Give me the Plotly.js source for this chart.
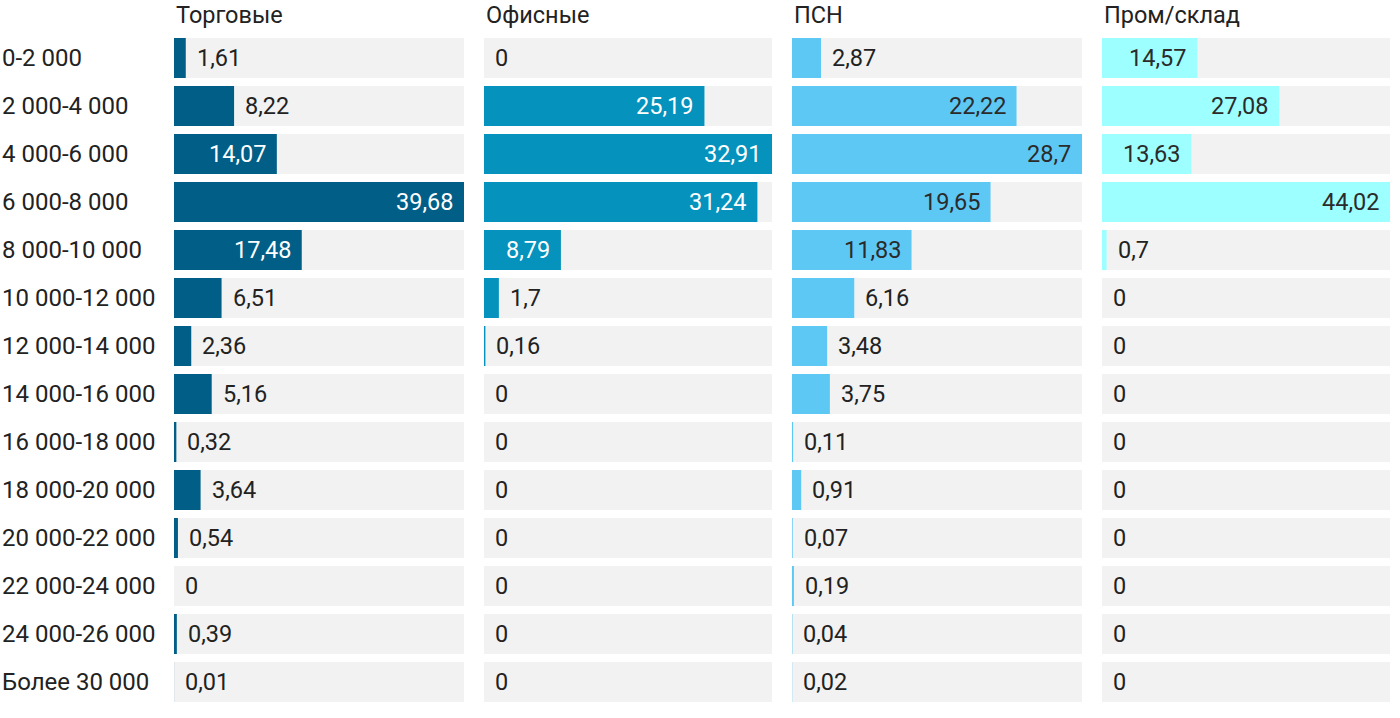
<!DOCTYPE html>
<html>
<head>
<meta charset="utf-8">
<script src="https://cdn.plot.ly/plotly-3.0.1.min.js"></script>
<style>html,body{margin:0;padding:0;background:#fff;}#chart{width:1400px;height:718px;}</style>
</head>
<body>
<div id="chart"></div>
<script>
const categories = ["0-2 000","2 000-4 000","4 000-6 000","6 000-8 000","8 000-10 000","10 000-12 000","12 000-14 000","14 000-16 000","16 000-18 000","18 000-20 000","20 000-22 000","22 000-24 000","24 000-26 000","Более 30 000"];
const seriesNames = ["Торговые","Офисные","ПСН","Пром/склад"];
const torgovye = [1.61,8.22,14.07,39.68,17.48,6.51,2.36,5.16,0.32,3.64,0.54,0,0.39,0.01];
const ofisnye = [0,25.19,32.91,31.24,8.79,1.7,0.16,0,0,0,0,0,0,0];
const psn = [2.87,22.22,28.7,19.65,11.83,6.16,3.48,3.75,0.11,0.91,0.07,0.19,0.04,0.02];
const prom = [14.57,27.08,13.63,44.02,0.7,0,0,0,0,0,0,0,0,0];

const seriesValues = [torgovye, ofisnye, psn, prom];
const colors = ["#005e87","#0592bd","#5ec8f5","#9dffff"];
const insideTextColors = ["#ffffff","#ffffff","#2b2b2b","#2b2b2b"];
const W = 1400, H = 718;
const colPx = [[174,464],[484,772],[792,1082],[1102,1390]];
const yTop = 34, yBot = 706;
const FS = 23.5;
const CAT_FS = 24;

const traces = [];
const annotations = [];
const layout = {
  width: W, height: H,
  margin: {l:0,r:0,t:0,b:0},
  paper_bgcolor: "#fff", plot_bgcolor: "#fff",
  barmode: "overlay", bargap: 8/48,
  showlegend: false,
  hovermode: false,
  font: {family: "Roboto, sans-serif", size: FS, color: "#222"},
  yaxis: {
    type: "category", categoryorder: "array", categoryarray: categories,
    range: [categories.length - 0.5, -0.5],
    domain: [1 - yBot/H, 1 - yTop/H],
    showticklabels: false, showgrid: false, zeroline: false, showline: false, ticks: ""
  }
};

const fmt = v => String(v).replace(".", ",");

seriesValues.forEach((vals, i) => {
  const ax = i === 0 ? "x" : "x" + (i+1);
  const axKey = i === 0 ? "xaxis" : "xaxis" + (i+1);
  const maxV = Math.max(...vals);
  const pxW = colPx[i][1] - colPx[i][0];
  layout[axKey] = {
    domain: [colPx[i][0]/W, colPx[i][1]/W],
    range: [0, maxV],
    anchor: "y",
    showticklabels: false, showgrid: false, zeroline: false, showline: false, ticks: "",
    fixedrange: true
  };
  traces.push({
    type: "bar", orientation: "h",
    x: categories.map(() => maxV), y: categories,
    xaxis: ax, yaxis: "y",
    marker: {color: "#f2f2f2"},
    hoverinfo: "skip"
  });
  traces.push({
    type: "bar", orientation: "h",
    x: vals, y: categories,
    xaxis: ax, yaxis: "y",
    marker: {color: colors[i]},
    hoverinfo: "skip"
  });
  vals.forEach((v, j) => {
    const inside = v / maxV * pxW > 70;
    annotations.push({
      xref: ax, yref: "y", x: v, y: categories[j],
      text: fmt(v), showarrow: false,
      xanchor: inside ? "right" : "left",
      xshift: inside ? -9 : 9,
      yanchor: "middle",
      font: {family: "Roboto, sans-serif", size: FS, color: inside ? insideTextColors[i] : "#222"}
    });
  });
  annotations.push({
    xref: "paper", yref: "paper", x: colPx[i][0]/W, y: 1 - 15/H,
    xanchor: "left", yanchor: "middle", showarrow: false,
    text: seriesNames[i],
    font: {family: "Roboto, sans-serif", size: FS, color: "#222"}
  });
});

categories.forEach(c => {
  annotations.push({
    xref: "paper", yref: "y", x: 0, y: c,
    xanchor: "left", yanchor: "middle", showarrow: false,
    text: c,
    font: {family: "Roboto, sans-serif", size: CAT_FS, color: "#222"}
  });
});

layout.annotations = annotations;

Plotly.newPlot("chart", traces, layout, {displayModeBar: false, staticPlot: true});
</script>
</body>
</html>
